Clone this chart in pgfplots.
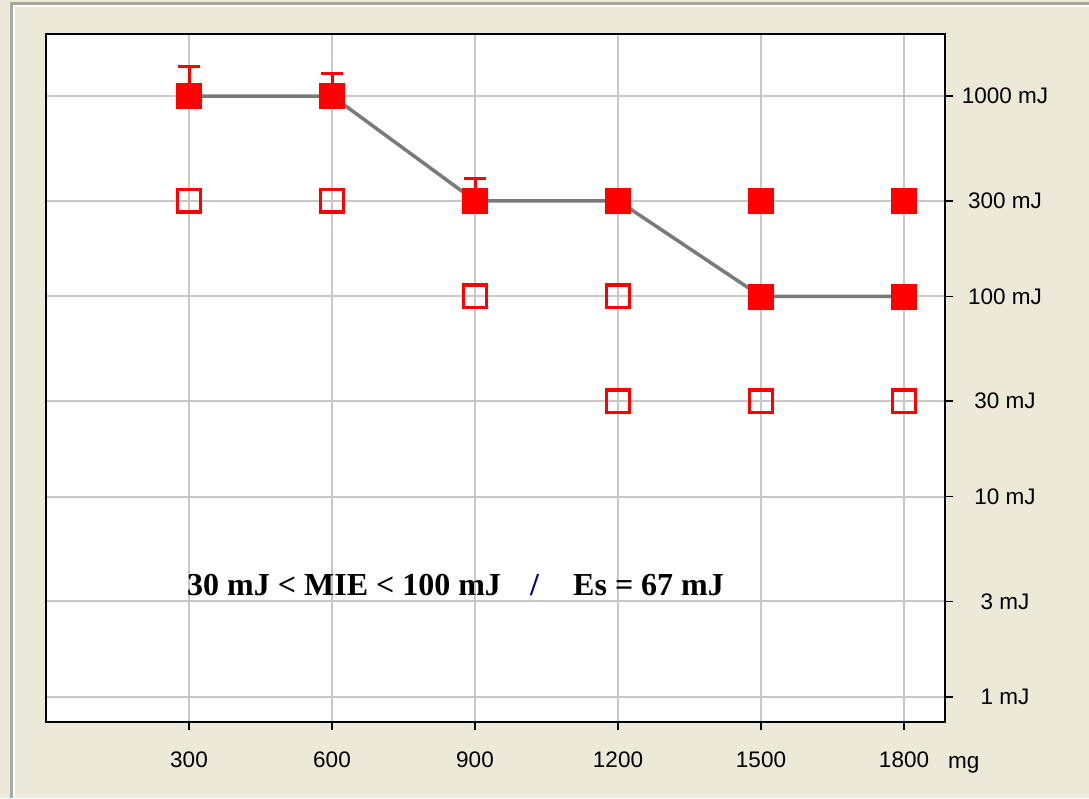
\documentclass[border=0pt]{standalone}
\usepackage{fontspec}
\setmainfont{Liberation Sans}
\newfontfamily\serifb{Liberation Serif}
\usepackage{pgfplots}
\pgfplotsset{compat=1.18}
\definecolor{bg}{HTML}{ECE9D8}
\definecolor{gridc}{HTML}{C8C8C8}
\definecolor{linec}{HTML}{7A7A7A}
\definecolor{mred}{HTML}{FF0000}
\definecolor{frame}{HTML}{A8A8A0}
\begin{document}
\begin{tikzpicture}[x=1pt,y=1pt]
\fill[bg] (0,0) rectangle (1089,798);
\useasboundingbox (0,0) rectangle (1089,798);
\draw[frame, line width=3pt] (11.5,0) -- (11.5,794.5) -- (1089,794.5);
\draw[white, line width=1.5pt] (14,0) -- (14,792) -- (1089,792);
\begin{axis}[at={(46pt,76pt)}, anchor=south west, scale only axis,
  width=899pt, height=688pt,
  xmin=0, xmax=1886, ymode=log, ymin=0.75, ymax=2040,
  axis background/.style={fill=white},
  axis line style={line width=2pt, black},
  xtick={300,600,900,1200,1500,1800},
  xticklabels={300,600,900,1200,1500,1800},
  ytick={1,3,10,30,100,300,1000},
  yticklabels={1 mJ,3 mJ,10 mJ,30 mJ,100 mJ,300 mJ,1000 mJ},
  minor y tick num=0,
  yticklabel pos=right, ytick pos=right, xtick pos=bottom,
  tick align=outside, major tick length=8pt,
  major tick style={line width=1.5pt, black},
  grid=major, grid style={gridc, line width=2pt},
  ticklabel style={font=\fontsize{22.5}{26}\selectfont},
  yticklabel style={anchor=center, xshift=52pt},
  xticklabel style={yshift=-38pt, anchor=base},
  /pgf/number format/assume math mode=true,
  clip=false,
]
\addplot[only marks, mark=square*, mark size=12.5pt,
  mark options={fill=mred, draw=mred, line width=0.5pt},
  error bars/.cd, y dir=plus, y explicit,
  error bar style={line width=3pt, mred},
  error mark options={rotate=90, mark size=11pt, line width=3pt, mred}]
  table[x=x, y=y, y error plus=ep] {
x y ep
300 1000 396
600 1000 290
900 300 87
};
\addplot[only marks, mark=square*, mark size=12.5pt,
  mark options={fill=mred, draw=mred, line width=0.5pt}]
  table[x=x, y=y] {
x y
1200 300
1500 300
1800 300
1500 100
1800 100
};
\addplot[only marks, mark=square, mark size=11.3pt,
  mark options={draw=mred, line width=3.5pt}]
  table[x=x, y=y] {
x y
300 300
600 300
900 100
1200 100
1200 30
1500 30
1800 30
};
\addplot[linec, line width=3.5pt, mark=none] coordinates {
(300,1000) (600,1000) (900,300) (1200,300) (1500,100) (1800,100)};
\end{axis}
\node[anchor=base west, inner sep=0, font=\fontsize{22.5}{26}\selectfont] at (948,30) {mg};
\node[anchor=base west, inner sep=0, font=\serifb\bfseries\fontsize{32}{36}\selectfont] at (187,202) {30 mJ < MIE < 100 mJ};
\node[anchor=base west, inner sep=0, text=blue!50!black, font=\serifb\bfseries\fontsize{32}{36}\selectfont] at (530,202) {/};
\node[anchor=base west, inner sep=0, font=\serifb\bfseries\fontsize{32}{36}\selectfont] at (573,202) {Es = 67 mJ};
\end{tikzpicture}
\end{document}
